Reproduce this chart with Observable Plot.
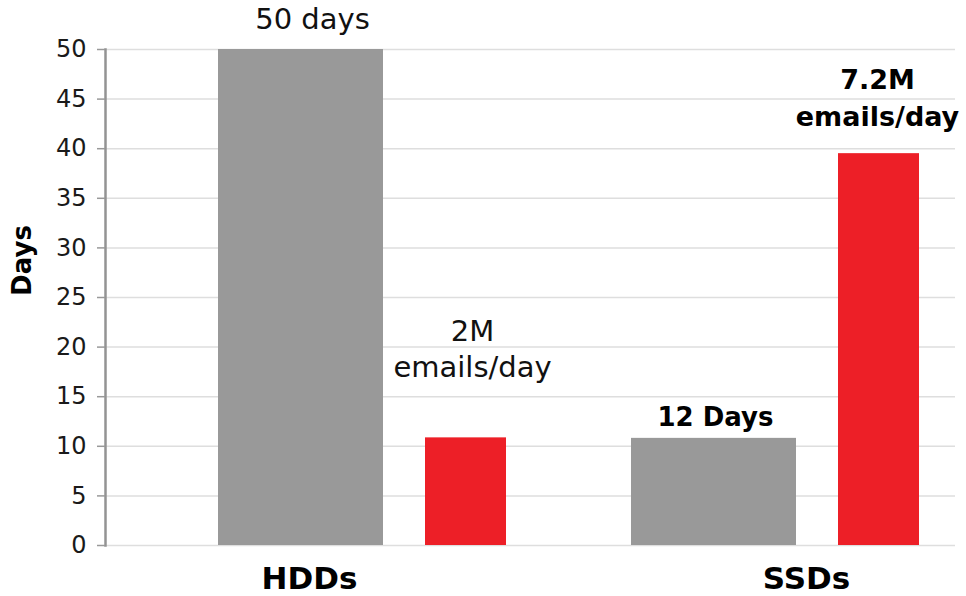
<!DOCTYPE html>
<html>
<head>
<meta charset="utf-8">
<script src="https://cdn.jsdelivr.net/npm/d3@7"></script>
<script src="https://cdn.jsdelivr.net/npm/@observablehq/plot@0.6"></script>
<style>
  html, body { margin: 0; padding: 0; background: #fff; }
  #chart svg { display: block; }
</style>
</head>
<body>
<div id="chart"></div>
<script>
// Data
const groups = ["HDDs", "SSDs"];
const daysValues = [50, 10.8];          // grey bars (Days)
const emailValues = [10.85, 39.5];      // red bars (drawn on the Days scale)
const dayLabels = ["50 days", "12 Days"];
const emailLabels = ["2M\nemails/day", "7.2M\nemails/day"];
const yTicks = [0, 5, 10, 15, 20, 25, 30, 35, 40, 45, 50];

const rows = groups.map((g, i) => ({
  group: g,
  days: daysValues[i],
  emails: emailValues[i],
  dayLabel: dayLabels[i],
  emailLabel: emailLabels[i]
}));

const FONT = "DejaVu Sans";
const GREY = "#999999";
const RED = "#ed1f27";

const chart = Plot.plot({
  width: 966,
  height: 596,
  marginTop: 49,
  marginBottom: 51,
  marginLeft: 105,
  marginRight: 11,
  style: { fontFamily: FONT, background: "#fff", overflow: "visible" },
  x: { domain: groups, paddingInner: 0.302, paddingOuter: 0.1787, align: 0.757, axis: null },
  y: { domain: [0, 50], axis: null },
  marks: [
    Plot.gridY(yTicks, { stroke: "#dedede", strokeOpacity: 1, strokeWidth: 1.5 }),
    Plot.barY(rows, { x: "group", y: "days", fill: GREY, insetRight: 123 }),
    Plot.barY(rows, { x: "group", y: "emails", fill: RED, insetLeft: 207 }),
    Plot.frame({ anchor: "left", stroke: "#939393", strokeWidth: 2.5 }),
    Plot.axisY({ ticks: yTicks, tickSize: 8, tickPadding: 11, stroke: GREY, strokeWidth: 1.5,
                 fill: "#1a1a1a", fontSize: 24, label: null, tickFormat: d => d }),
    // y axis title
    Plot.text(["Days"], { text: d => d, frameAnchor: "left", rotate: -90, dx: -83, dy: -37,
                          fontSize: 26, fontWeight: "bold", fill: "#000", textAnchor: "middle" }),
    // value labels
    Plot.text(rows, { filter: d => d.group === "HDDs", x: "group", y: "days", text: "dayLabel",
                      dx: 12 - 62, dy: -21, lineAnchor: "bottom", fontSize: 29, fill: "#111" }),
    Plot.text(rows, { filter: d => d.group === "SSDs", x: "group", y: "days", text: "dayLabel",
                      dx: -60, dy: -12, lineAnchor: "bottom", fontSize: 26, fontWeight: "bold", fill: "#000" }),
    Plot.text(rows, { filter: d => d.group === "HDDs", x: "group", y: "emails", text: "emailLabel",
                      dx: 110, dy: -61, lineAnchor: "bottom", lineHeight: 1.24, fontSize: 29, fill: "#111" }),
    Plot.text(rows, { filter: d => d.group === "SSDs", x: "group", y: "emails", text: "emailLabel",
                      dx: 102, dy: -28, lineAnchor: "bottom", lineHeight: 1.36, fontSize: 27, fontWeight: "bold", fill: "#000" }),
    // category labels
    Plot.text(rows, { filter: d => d.group === "HDDs", x: "group", text: "group", frameAnchor: "bottom",
                      dx: -53, dy: 43, lineAnchor: "bottom", fontSize: 31, fontWeight: "bold", fill: "#000" }),
    Plot.text(rows, { filter: d => d.group === "SSDs", x: "group", text: "group", frameAnchor: "bottom",
                      dx: 31, dy: 43, lineAnchor: "bottom", fontSize: 31, fontWeight: "bold", fill: "#000" })
  ]
});

document.getElementById("chart").appendChild(chart);
</script>
</body>
</html>
